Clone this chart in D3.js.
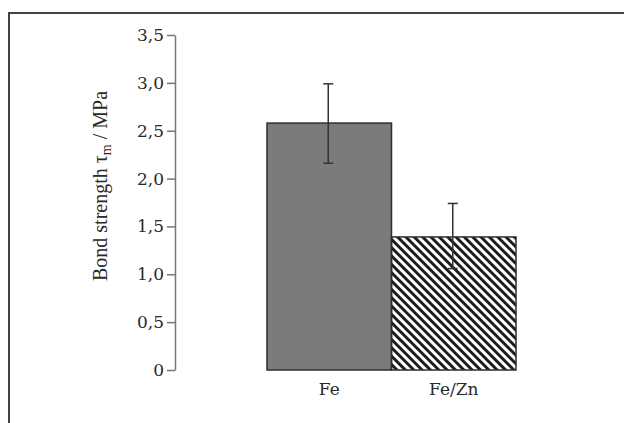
<!DOCTYPE html>
<html>
<head>
<meta charset="utf-8">
<script src="https://cdn.jsdelivr.net/npm/d3@7"></script>
<style>
  body { margin: 0; background: #fff; }
  svg { display: block; }
</style>
</head>
<body>
<div id="graph"></div>
<script>
// values
var categories = ["Fe", "Fe/Zn"];
var means = [2.58, 1.39];
var errLow = [2.16, 1.06];
var errHigh = [2.99, 1.74];
var tickValues = [0, 0.5, 1.0, 1.5, 2.0, 2.5, 3.0, 3.5];
var tickLabels = ["0", "0,5", "1,0", "1,5", "2,0", "2,5", "3,0", "3,5"];

var width = 624;
var height = 423;
var font = "'DejaVu Serif', serif";

var svg = d3.select("#graph").
  append("svg").
  attr("width", width).
  attr("height", height);

// frame around the figure (open to the right and bottom)
svg.append("path").
  attr("d", "M9," + height + " V13 H" + width).
  attr("fill", "none").
  attr("stroke", "#444").
  attr("stroke-width", 2);

// hatch pattern for the second bar
var defs = svg.append("defs");
defs.append("pattern").
  attr("id", "hatch").
  attr("patternUnits", "userSpaceOnUse").
  attr("width", 5.9).
  attr("height", 10).
  attr("patternTransform", "rotate(-45)").
  append("rect").
  attr("x", 0).
  attr("y", 0).
  attr("width", 2.9).
  attr("height", 10).
  attr("fill", "#1a1a1a");

var yScale = d3.scaleLinear().
  domain([0, 3.5]).
  range([370, 35]);

var xScale = d3.scaleBand().
  domain(categories).
  range([267, 516]).
  paddingInner(0).
  paddingOuter(0);

var yAxis = d3.axisLeft(yScale).
  tickValues(tickValues).
  tickSizeInner(8).
  tickSizeOuter(0).
  tickPadding(3).
  tickFormat(function (d) { return tickLabels[tickValues.indexOf(d)]; });

var gy = svg.append("g").
  attr("transform", "translate(175,0)").
  call(yAxis);

gy.select(".domain").attr("stroke", "#777").attr("stroke-width", 1.5);
gy.selectAll(".tick line").attr("stroke", "#777").attr("stroke-width", 1.5);
gy.selectAll(".tick text").
  style("font-family", font).
  style("font-size", "17px").
  attr("fill", "#2a2a2a");

// bars
svg.selectAll("rect.bar").
  data(categories).
  enter().
  append("rect").
  attr("class", "bar").
  attr("x", function (d) { return xScale(d); }).
  attr("y", function (d, i) { return yScale(means[i]); }).
  attr("width", xScale.bandwidth()).
  attr("height", function (d, i) { return yScale(0) - yScale(means[i]); }).
  attr("fill", function (d, i) { return i === 0 ? "#7b7b7d" : "url(#hatch)"; }).
  attr("stroke", "#2e2e2e").
  attr("stroke-width", 1.5);

// error bars
var err = svg.selectAll("g.err").
  data(categories).
  enter().
  append("g").
  attr("class", "err").
  attr("stroke", "#333").
  attr("stroke-width", 1.5);

err.append("line").
  attr("x1", function (d) { return xScale(d) + xScale.bandwidth() / 2 - 1; }).
  attr("x2", function (d) { return xScale(d) + xScale.bandwidth() / 2 - 1; }).
  attr("y1", function (d, i) { return yScale(errHigh[i]); }).
  attr("y2", function (d, i) { return yScale(errLow[i]); });

err.append("line").
  attr("x1", function (d) { return xScale(d) + xScale.bandwidth() / 2 - 6; }).
  attr("x2", function (d) { return xScale(d) + xScale.bandwidth() / 2 + 4; }).
  attr("y1", function (d, i) { return yScale(errHigh[i]); }).
  attr("y2", function (d, i) { return yScale(errHigh[i]); });

err.append("line").
  attr("x1", function (d) { return xScale(d) + xScale.bandwidth() / 2 - 6; }).
  attr("x2", function (d) { return xScale(d) + xScale.bandwidth() / 2 + 4; }).
  attr("y1", function (d, i) { return yScale(errLow[i]); }).
  attr("y2", function (d, i) { return yScale(errLow[i]); });

// category labels
svg.selectAll("text.cat").
  data(categories).
  enter().
  append("text").
  attr("class", "cat").
  attr("x", function (d) { return xScale(d) + xScale.bandwidth() / 2; }).
  attr("y", 395).
  attr("text-anchor", "middle").
  style("font-family", font).
  style("font-size", "17px").
  attr("fill", "#2a2a2a").
  text(function (d) { return d; });

// y axis title
var title = svg.append("text").
  attr("transform", "translate(107,186) rotate(-90)").
  attr("text-anchor", "middle").
  style("font-family", "'Liberation Serif', serif").
  style("font-size", "20px").
  attr("fill", "#2a2a2a");

title.append("tspan").text("Bond strength \u03c4");
title.append("tspan").attr("dy", 4).style("font-size", "14px").text("m");
title.append("tspan").attr("dy", -4).text(" / MPa");
</script>
</body>
</html>
